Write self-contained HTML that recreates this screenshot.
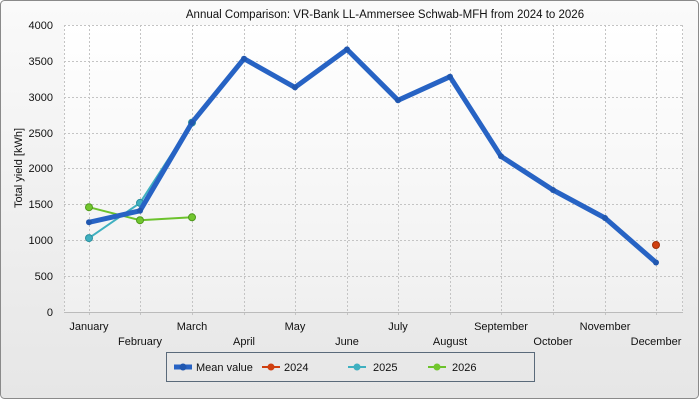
<!DOCTYPE html>
<html><head><style>body{margin:0;}svg{display:block;font-family:"Liberation Sans",sans-serif;}</style></head><body>
<svg width="700" height="400" xmlns="http://www.w3.org/2000/svg">
<defs><linearGradient id="bg" x1="0" y1="0" x2="0" y2="1"><stop offset="0" stop-color="#fafafa"/><stop offset="1" stop-color="#e6e6e6"/></linearGradient>
<linearGradient id="pb" x1="0" y1="0" x2="0" y2="1"><stop offset="0" stop-color="#ffffff"/><stop offset="1" stop-color="#f0f0f0"/></linearGradient></defs>
<rect x="0.5" y="0.5" width="698" height="398" rx="4" fill="url(#bg)" stroke="#8a8a8a"/>
<rect x="64" y="25" width="619" height="287" fill="url(#pb)"/>
<g stroke="#c4c4c4" stroke-dasharray="2,2" stroke-width="1">
<line x1="64" x2="683" y1="25.5" y2="25.5"/><line x1="64" x2="683" y1="61.5" y2="61.5"/><line x1="64" x2="683" y1="97.5" y2="97.5"/><line x1="64" x2="683" y1="133.5" y2="133.5"/><line x1="64" x2="683" y1="168.5" y2="168.5"/><line x1="64" x2="683" y1="204.5" y2="204.5"/><line x1="64" x2="683" y1="240.5" y2="240.5"/><line x1="64" x2="683" y1="276.5" y2="276.5"/>
<line y1="25" y2="316" x1="89.5" x2="89.5"/><line y1="25" y2="316" x1="140.5" x2="140.5"/><line y1="25" y2="316" x1="192.5" x2="192.5"/><line y1="25" y2="316" x1="244.5" x2="244.5"/><line y1="25" y2="316" x1="295.5" x2="295.5"/><line y1="25" y2="316" x1="347.5" x2="347.5"/><line y1="25" y2="316" x1="398.5" x2="398.5"/><line y1="25" y2="316" x1="450.5" x2="450.5"/><line y1="25" y2="316" x1="501.5" x2="501.5"/><line y1="25" y2="316" x1="553.5" x2="553.5"/><line y1="25" y2="316" x1="605.5" x2="605.5"/><line y1="25" y2="316" x1="656.5" x2="656.5"/>
<line x1="64.5" x2="64.5" y1="25" y2="312"/><line x1="682.5" x2="682.5" y1="25" y2="312"/>
</g>
<line x1="64" x2="683" y1="312.5" y2="312.5" stroke="#bbb"/>
<text x="385" y="18" font-size="11.5" text-anchor="middle" fill="#111">Annual Comparison: VR-Bank LL-Ammersee Schwab-MFH from 2024 to 2026</text>
<g font-size="11" fill="#111" text-anchor="end">
<text x="53" y="316">0</text><text x="53" y="280">500</text><text x="53" y="244">1000</text><text x="53" y="208">1500</text><text x="53" y="172">2000</text><text x="53" y="137">2500</text><text x="53" y="101">3000</text><text x="53" y="65">3500</text><text x="53" y="29">4000</text>
</g>
<text transform="translate(22,168) rotate(-90)" font-size="11" text-anchor="middle" fill="#111">Total yield [kWh]</text>
<g font-size="11" fill="#111" text-anchor="middle">
<text x="89" y="330">January</text><text x="140" y="345">February</text><text x="192" y="330">March</text><text x="244" y="345">April</text><text x="295" y="330">May</text><text x="347" y="345">June</text><text x="398" y="330">July</text><text x="450" y="345">August</text><text x="501" y="330">September</text><text x="553" y="345">October</text><text x="605" y="330">November</text><text x="656" y="345">December</text>
</g>
<polyline points="89,238.1 140,202.9 192,122.6" fill="none" stroke="#3fb0c0" stroke-width="2"/>
<g fill="#3fb0c0" stroke="#2a8f9e"><circle cx="89" cy="238.1" r="3.5"/><circle cx="140" cy="202.9" r="3.5"/><circle cx="192" cy="122.6" r="3.5"/></g>
<polyline points="89,207.2 140,220.2 192,217.3" fill="none" stroke="#6cc22c" stroke-width="2"/>
<g fill="#72c62e" stroke="#4e9a1c"><circle cx="89" cy="207.2" r="3.5"/><circle cx="140" cy="220.2" r="3.5"/><circle cx="192" cy="217.3" r="3.5"/></g>
<polyline points="89,222.3 140,210.8 192,122.6 244,58.7 295,87.4 347,49.4 398,100.3 450,76.7 501,156.3 553,190 605,218 656,262.5" fill="none" stroke="#2763c4" stroke-width="5" stroke-linejoin="round"/>
<g fill="#2057b0"><circle cx="89" cy="222.3" r="3"/><circle cx="140" cy="210.8" r="3"/><circle cx="192" cy="122.6" r="3"/><circle cx="244" cy="58.7" r="3"/><circle cx="295" cy="87.4" r="3"/><circle cx="347" cy="49.4" r="3"/><circle cx="398" cy="100.3" r="3"/><circle cx="450" cy="76.7" r="3"/><circle cx="501" cy="156.3" r="3"/><circle cx="553" cy="190" r="3"/><circle cx="605" cy="218" r="3"/><circle cx="656" cy="262.5" r="3"/></g>
<circle cx="656" cy="245" r="3.5" fill="#d04010" stroke="#a03008"/>
<rect x="166.5" y="352.5" width="368" height="29" fill="none" stroke="#5a6a7a"/>
<g font-size="11" fill="#111">
<line x1="174" x2="192" y1="367" y2="367" stroke="#2763c4" stroke-width="5"/><circle cx="183" cy="367" r="3.5" fill="#2057b0"/><text x="196" y="371">Mean value</text>
<line x1="262" x2="280" y1="367" y2="367" stroke="#d04010" stroke-width="2"/><circle cx="271" cy="367" r="3.5" fill="#d04010"/><text x="284" y="371">2024</text>
<line x1="348" x2="366" y1="367" y2="367" stroke="#3fb0c0" stroke-width="2"/><circle cx="357" cy="367" r="3.5" fill="#3fb0c0"/><text x="373" y="371">2025</text>
<line x1="428" x2="446" y1="367" y2="367" stroke="#6cc22c" stroke-width="2"/><circle cx="437" cy="367" r="3.5" fill="#72c62e"/><text x="452" y="371">2026</text>
</g>
</svg>
</body></html>
